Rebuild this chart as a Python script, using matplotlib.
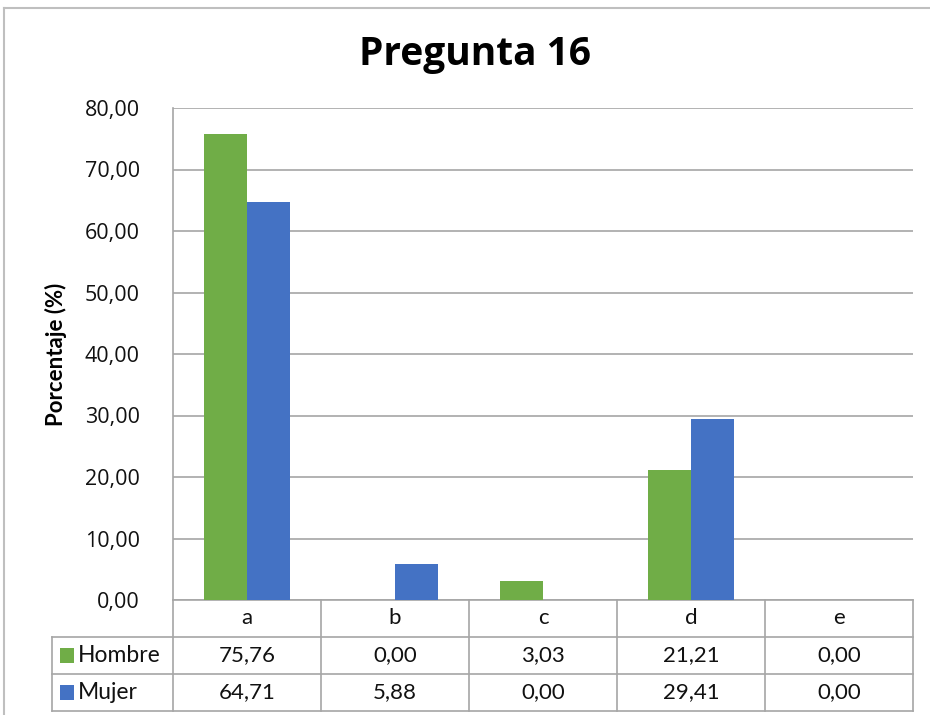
import matplotlib
matplotlib.use('Agg')
import matplotlib.pyplot as plt
import numpy as np

categories = ['a', 'b', 'c', 'd', 'e']
series_names = ['Hombre', 'Mujer']
hombre = [75.76, 0.00, 3.03, 21.21, 0.00]
mujer = [64.71, 5.88, 0.00, 29.41, 0.00]
colors = ['#70AD47', '#4472C4']
yticks = [0, 10, 20, 30, 40, 50, 60, 70, 80]


def fmt(v):
    return f"{v:.2f}".replace('.', ',')


W, H = 930, 715
fig = plt.figure(figsize=(W / 100, H / 100), dpi=100)
# plot area in pixels: x 173..913, y 108..600
ax = fig.add_axes([173 / W, 1 - 600 / H, (913 - 173) / W, (600 - 108) / H])

x = np.arange(len(categories))
bw = 0.2875
ax.bar(x - bw / 2, hombre, bw, color=colors[0], zorder=3)
ax.bar(x + bw / 2, mujer, bw, color=colors[1], zorder=3)

ax.set_xlim(-0.5, len(categories) - 0.5)
ax.set_ylim(0, 80)
ax.set_yticks(yticks)
ax.set_yticklabels([fmt(v) for v in yticks], fontsize=15.5, family='Open Sans', color='#111111')
ax.set_xticks([])
ax.tick_params(axis='y', length=0, pad=24)
ax.yaxis.grid(True, color='#a6a6a6', linewidth=1.2, zorder=0)
for s in ['top', 'right', 'bottom']:
    ax.spines[s].set_visible(False)
ax.spines['left'].set_color('#a6a6a6')
ax.spines['left'].set_linewidth(1.2)

ax.set_ylabel('Porcentaje (%)', fontsize=16, fontweight='bold', family='Lato')
ax.yaxis.set_label_coords(-106 / 740, 0.5)

fig.text(475 / W, 1 - 55 / H, 'Pregunta 16', ha='center', va='center',
         fontsize=28, fontweight='bold', family='Open Sans')

# data table below the plot
trans = ax.get_xaxis_transform()
row_h = 37 / 492
left = -0.5 - (173 - 52) / 148
lc = '#a6a6a6'
nrows = 3
ybot = -nrows * row_h
# horizontal lines
ax.plot([-0.5, 4.5], [0, 0], color=lc, lw=1.2, transform=trans, clip_on=False)
for r in range(1, nrows + 1):
    ax.plot([left, 4.5], [-r * row_h, -r * row_h], color=lc, lw=1.2, transform=trans, clip_on=False)
# vertical lines
for i in range(len(categories) + 1):
    ax.plot([i - 0.5, i - 0.5], [0, ybot], color=lc, lw=1.2, transform=trans, clip_on=False)
ax.plot([left, left], [-row_h, ybot], color=lc, lw=1.2, transform=trans, clip_on=False)

tfont = dict(fontsize=16, family='Lato', color='#111111', transform=trans,
             ha='center', va='center', clip_on=False)
for i, c in enumerate(categories):
    ax.text(i, -0.5 * row_h, c, **tfont)
for r, (name, vals) in enumerate(zip(series_names, [hombre, mujer])):
    yc = -(r + 1.5) * row_h
    for i, v in enumerate(vals):
        ax.text(i, yc, fmt(v), **tfont)
    kx = left + 8 / 148
    ax.bar(kx + 7 / 148, 15 / 492, 14 / 148, bottom=yc - 7.5 / 492, color=colors[r],
           transform=trans, clip_on=False)
    ax.text(kx + 18 / 148, yc, name, fontsize=16.5, family='Lato', color='#111111',
            transform=trans, ha='left', va='center', clip_on=False)

# chart border
fig.add_artist(plt.Line2D([4 / W, 4 / W], [1 - 8 / H, 0], color='#bfbfbf', lw=1.5))
fig.add_artist(plt.Line2D([4 / W, 1], [1 - 8 / H, 1 - 8 / H], color='#bfbfbf', lw=1.5))

fig.savefig('out.png', dpi=100, facecolor='white')
